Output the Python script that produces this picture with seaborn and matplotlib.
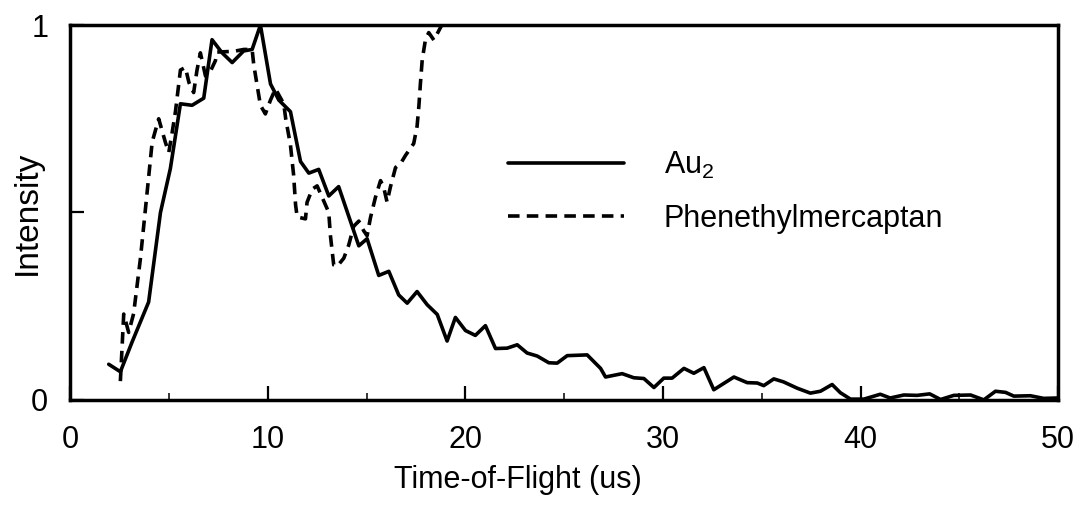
import matplotlib
matplotlib.use('Agg')
import matplotlib.pyplot as plt
import pandas as pd
import seaborn as sns

# Au2 time-of-flight trace
au2_time = [1.94, 2.53, 3.12, 3.96, 4.56, 5.06, 5.57, 6.16, 6.75, 7.17, 7.68, 8.19,
            8.77, 9.2, 9.62, 10.13, 10.55, 11.14, 11.65, 12.07, 12.57, 13.08, 13.58,
            14.6, 15.02, 15.61, 16.12, 16.62, 17.05, 17.55, 18.06, 18.57, 19.07,
            19.49, 20.0, 20.5, 21.01, 21.52, 22.11, 22.62, 23.12, 23.63, 24.22,
            24.64, 25.15, 26.16, 26.84, 27.09, 27.93, 28.52, 29.03, 29.54, 30.04,
            30.46, 31.06, 31.56, 32.07, 32.57, 33.59, 34.26, 34.77, 35.1, 35.61,
            36.1, 36.8, 37.46, 37.97, 38.56, 38.98, 39.49, 40.17, 41.0, 41.5,
            42.19, 42.86, 43.5, 44.05, 44.72, 45.57, 46.24, 46.83, 47.34, 47.76,
            48.6, 49.27, 50.0]
au2_int = [0.095, 0.075, 0.154, 0.261, 0.50, 0.617, 0.79, 0.786, 0.805, 0.961, 0.926, 0.90,
           0.931, 0.935, 1.0, 0.843, 0.80, 0.769, 0.636, 0.605, 0.615, 0.544, 0.569,
           0.411, 0.43, 0.332, 0.343, 0.28, 0.258, 0.289, 0.254, 0.228, 0.157,
           0.22, 0.185, 0.172, 0.198, 0.137, 0.138, 0.147, 0.125, 0.117, 0.099,
           0.098, 0.118, 0.12, 0.084, 0.061, 0.07, 0.059, 0.057, 0.033, 0.058,
           0.058, 0.084, 0.071, 0.086, 0.027, 0.061, 0.046, 0.045, 0.038, 0.056,
           0.048, 0.031, 0.018, 0.023, 0.041, 0.019, 0.002, 0.002, 0.015, 0.005,
           0.013, 0.012, 0.016, 0.001, 0.012, 0.013, 0.0, 0.023, 0.02, 0.01,
           0.011, 0.004, 0.005]

# Phenethylmercaptan trace (runs off the top near 19 us)
pm_time = [2.53, 2.7, 2.95, 3.2, 3.54, 3.8, 4.14, 4.47, 4.81, 4.98, 5.15, 5.32, 5.57,
           5.82, 6.0, 6.24, 6.41, 6.58, 6.84, 7.09, 7.34, 7.43, 8.27, 8.78, 9.2,
           9.28, 9.45, 9.62, 9.87, 10.13, 10.38, 10.8, 10.9, 11.14, 11.3, 11.4,
           11.48, 11.9, 11.98, 12.24, 12.49, 13.08, 13.16, 13.33, 13.5, 13.84,
           14.09, 14.34, 14.6, 14.85, 15.02, 15.19, 15.44, 15.7, 15.86, 16.03,
           16.2, 16.46, 16.71, 16.96, 17.38, 17.55, 17.64, 17.72, 17.81, 17.97,
           18.14, 18.4, 18.65, 18.8]
pm_int = [0.05, 0.229, 0.18, 0.23, 0.375, 0.51, 0.688, 0.75, 0.687, 0.66, 0.713, 0.77, 0.88,
          0.887, 0.847, 0.82, 0.88, 0.926, 0.864, 0.877, 0.905, 0.928, 0.93, 0.935, 0.935,
          0.895, 0.84, 0.786, 0.763, 0.80, 0.83, 0.79, 0.75, 0.68, 0.6, 0.52,
          0.488, 0.483, 0.527, 0.562, 0.571, 0.50, 0.44, 0.36, 0.356, 0.378,
          0.413, 0.463, 0.477, 0.451, 0.438, 0.486, 0.54, 0.585, 0.567, 0.528,
          0.568, 0.62, 0.63, 0.652, 0.684, 0.73, 0.783, 0.845, 0.907, 0.96,
          0.98, 0.96, 0.985, 1.0]

df_au2 = pd.DataFrame({'time': au2_time, 'intensity': au2_int})
df_pm = pd.DataFrame({'time': pm_time, 'intensity': pm_int})

sns.set_style('ticks')
plt.rcParams['font.family'] = ['Liberation Sans', 'DejaVu Sans']
plt.rcParams['mathtext.default'] = 'regular'
plt.rcParams['text.color'] = 'black'
plt.rcParams['axes.labelcolor'] = 'black'

fig = plt.figure(figsize=(10.83, 5.12), dpi=100)
ax = fig.add_axes([0.065, 0.219, 0.912, 0.732])

sns.lineplot(data=df_au2, x='time', y='intensity', color='black', linewidth=2.6,
             label='Au$_2$', ax=ax)
sns.lineplot(data=df_pm, x='time', y='intensity', color='black', linewidth=2.6,
             linestyle=(0, (3.2, 2.0)), label='Phenethylmercaptan', ax=ax)

ax.set_xlim(0, 50)
ax.set_ylim(0, 1)
ax.set_xticks([0, 10, 20, 30, 40, 50])
ax.set_xticks([5, 15, 25, 35, 45], minor=True)
ax.set_yticks([0, 0.5, 1])
ax.set_yticklabels(['0', '', '1'])
ax.tick_params(axis='both', which='major', direction='in', length=10, width=1.6,
               labelsize=22, colors='black')
ax.tick_params(axis='x', which='major', pad=18)
ax.tick_params(axis='y', which='major', pad=16)
ax.tick_params(axis='x', which='minor', direction='in', length=5, width=1.3)
for s in ax.spines.values():
    s.set_visible(True)
    s.set_linewidth(2.5)
    s.set_color('black')

ax.set_xlabel('Time-of-Flight (us)', fontsize=22)
ax.xaxis.set_label_coords(0.453, -0.175)
ax.set_ylabel('Intensity', fontsize=24)
ax.yaxis.set_label_coords(-0.028, 0.5)

ax.legend(loc='upper left', bbox_to_anchor=(0.415, 0.74), frameon=False,
          fontsize=22, handlelength=3.8, handletextpad=1.3, labelspacing=0.75)

fig.savefig('out.png', dpi=100)
